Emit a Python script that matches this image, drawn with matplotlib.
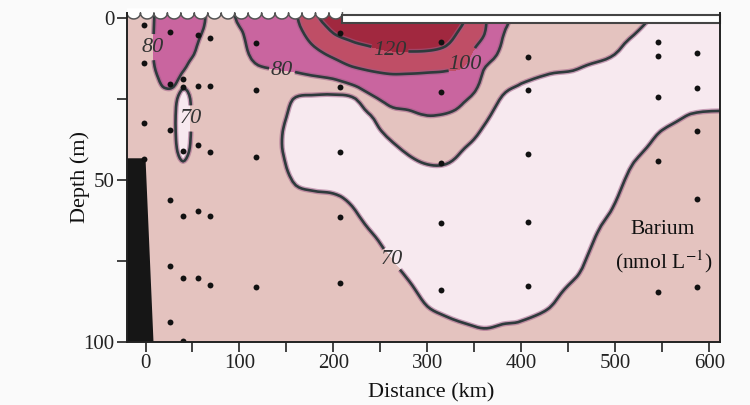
import numpy as np
import matplotlib
matplotlib.use('Agg')
import matplotlib.pyplot as plt
import matplotlib.patheffects as pe
from matplotlib.patches import Rectangle, Polygon

plt.rcParams['font.family'] = ['Liberation Serif', 'DejaVu Serif']
plt.rcParams['mathtext.fontset'] = 'stix'

# ---------------- data ----------------
grid_km = [-20, 0, 10, 20, 30, 40, 50, 60, 70, 85, 100, 120, 140, 160, 180, 200,
           220, 240, 260, 280, 300, 320, 340, 360, 380, 400, 430, 460, 490, 520,
           550, 580, 620]
grid_depth = [0, 5, 10, 15, 20, 25, 30, 35, 40, 45, 50, 55, 60, 65, 70, 75, 80,
              85, 90, 95, 100]

# Barium (nmol/L) profile for each grid column, depths 0..100 m
ba_profiles = [
    [75, 75, 75, 75, 75, 75, 75, 75, 75, 75, 75, 75, 75, 75, 75, 75, 75, 75, 75, 75, 75],
    [75, 75, 75, 75, 75, 75, 75, 75, 75, 75, 75, 75, 75, 75, 75, 75, 75, 75, 75, 75, 75],
    [80.4, 81, 81.5, 80.2, 77, 75, 75, 75, 75, 75, 75, 75, 75, 75, 75, 75, 75, 75, 75, 75, 75],
    [88, 90, 90, 88, 82, 76, 75, 75, 75, 75, 75, 75, 75, 75, 75, 75, 75, 75, 75, 75, 75],
    [90, 92, 92, 89, 82, 74, 72, 72, 73, 75, 75, 75, 75, 75, 75, 75, 75, 75, 75, 75, 75],
    [88, 88, 86, 82, 74, 64, 62, 62, 64, 71, 75, 75, 75, 75, 75, 75, 75, 75, 75, 75, 75],
    [86, 85, 82, 77, 75, 72, 71.5, 71.5, 72.5, 75, 75, 75, 75, 75, 75, 75, 75, 75, 75, 75, 75],
    [83, 79.7, 76, 75, 75, 75, 75, 75, 75, 75, 75, 75, 75, 75, 75, 75, 75, 75, 75, 75, 75],
    [75, 75, 75, 75, 75, 75, 75, 75, 75, 75, 75, 75, 75, 75, 75, 75, 75, 75, 75, 75, 75],
    [76, 75, 75, 75, 75, 75, 75, 75, 75, 75, 75, 75, 75, 75, 75, 75, 75, 75, 75, 75, 75],
    [82, 78, 76, 75, 75, 75, 75, 75, 75, 75, 75, 75, 75, 75, 75, 75, 75, 75, 75, 75, 75],
    [90, 89, 86, 79.5, 75, 75, 75, 75, 75, 75, 75, 75, 75, 75, 75, 75, 75, 75, 75, 75, 75],
    [92, 93, 90, 81.2, 76, 75, 74, 72.5, 72.5, 74, 75, 75, 75, 75, 75, 75, 75, 75, 75, 75, 75],
    [98.5, 95, 90, 82.5, 75.5, 69.4, 66.6, 63.7, 62.5, 65, 68.9, 72, 74.5, 75, 75, 75, 75, 75, 75, 75, 75],
    [117, 107.6, 97.8, 86.7, 75.6, 68.7, 66.1, 63.5, 62.4, 64.9, 67.7, 71, 73.5, 75, 75, 75, 75, 75, 75, 75, 75],
    [126, 119.5, 106.7, 92.3, 76.7, 68.3, 65.5, 62.7, 61.6, 64, 66.6, 70.6, 73, 75, 75, 75, 75, 75, 75, 75, 75],
    [130, 123.8, 114.3, 100, 81.8, 68.8, 65.9, 62.9, 60, 62.8, 65.6, 68.3, 71, 73.5, 75, 75, 75, 75, 75, 75, 75],
    [132, 125.5, 117.8, 104.1, 89.2, 77.1, 70.1, 67.2, 64.4, 61.7, 60.6, 63.3, 66.1, 69.4, 72.5, 75, 75, 75, 75, 75, 75],
    [134, 127, 120.3, 105.7, 93.7, 83.2, 76.7, 71.9, 68.4, 65.7, 63, 60.3, 62.4, 65.1, 67.8, 70.6, 73, 75, 75, 75, 75],
    [135, 127.6, 120.9, 105.5, 93.9, 84.6, 78.3, 74.8, 71.4, 68.5, 65.9, 63.3, 60.8, 61.8, 64.4, 66.9, 69.5, 72, 74, 75, 75],
    [135, 127.5, 120.4, 104.1, 94.6, 87.3, 80.1, 76.7, 73.3, 70.1, 67.5, 65, 62.5, 59.9, 60.5, 63, 65.5, 68, 70.5, 73, 75],
    [134, 126.2, 117.1, 102.9, 93.8, 86.2, 79.4, 76.3, 73.1, 70.05, 67.4, 64.9, 62.3, 59.8, 58.8, 61.3, 63.9, 66.4, 68.9, 71.5, 74],
    [120.5, 113.4, 106.4, 99.1, 90, 80.9, 76.9, 73.4, 70.05, 67.8, 65.6, 63.3, 61.1, 58.9, 58.9, 61.1, 63.3, 65.6, 67.8, 70.4, 73],
    [103, 100.7, 91.6, 81.1, 77.4, 74.6, 71.7, 69.2, 67.1, 65, 63, 60.9, 58.9, 57, 59.3, 61.3, 63.4, 65.5, 67.5, 69.6, 72],
    [84, 80.7, 78, 74.9, 72, 69.5, 67.6, 65.8, 64, 62.1, 60.3, 58.5, 57.4, 59.2, 61, 62.8, 64.6, 66.4, 68.2, 70.2, 72],
    [77, 75.5, 74, 72.5, 70.1, 68.1, 66.2, 64.3, 62.4, 60.5, 58.6, 56.8, 57.1, 59, 61, 62.9, 64.8, 66.7, 68.7, 70.6, 73],
    [76, 74.5, 73, 71, 68.8, 66.9, 65, 63, 61, 59.1, 57.2, 56.8, 58.7, 60.6, 62.6, 64.5, 66.4, 68.4, 70.2, 72.3, 74],
    [75, 73.5, 72, 70.3, 68.2, 66.1, 64.1, 62.1, 60, 58, 57.5, 59.5, 62.4, 64.1, 66.1, 68.2, 70.2, 72.5, 74, 75, 75],
    [74.5, 73, 72, 68.2, 65.4, 62.8, 60.1, 57.8, 58.6, 61.2, 63.8, 66.4, 69, 71.5, 73.5, 75, 75, 75, 75, 75, 75],
    [72, 70.1, 67, 64, 61, 58, 61.1, 64.2, 67.2, 70.3, 72.5, 74, 75, 75, 75, 75, 75, 75, 75, 75, 75],
    [68, 65, 62, 60, 60, 62, 66, 70.3, 72.5, 74, 75, 75, 75, 75, 75, 75, 75, 75, 75, 75, 75],
    [62, 60, 60, 61, 63, 66, 70.3, 73, 74.5, 75, 75, 75, 75, 75, 75, 75, 75, 75, 75, 75, 75],
    [62, 60, 60, 61, 63, 67, 71, 73.5, 75, 75, 75, 75, 75, 75, 75, 75, 75, 75, 75, 75, 75],
]

# sampling stations (distance km) and sample depths (m)
station_km = [-2, 26.5, 40.4, 56.4, 69, 118, 207, 315, 407, 545, 587]
station_depths = [
    [2.2, 13.9, 32.4, 43.5],
    [4.3, 20.4, 34.6, 56.2, 76.5, 93.8],
    [18.8, 21.3, 41, 61, 80.2, 99.7],
    [5.2, 21, 39.2, 59.6, 80.2],
    [6.2, 21, 41.4, 61, 82.4],
    [7.7, 22.2, 42.9, 83],
    [4.6, 21.3, 41.4, 61.4, 81.8],
    [7.4, 22.8, 44.8, 63.3, 84],
    [12, 22.2, 42, 63, 82.7],
    [7.4, 11.7, 24.4, 44.1, 84.6],
    [10.8, 21.6, 34.9, 55.9, 83],
]

fill_levels = [0, 70, 80, 100, 120, 200]
fill_colors = ['#F7E9EF', '#E4C3BF', '#C9659F', '#BF4E66', '#A1283F']
line_levels = [70, 80, 100, 120]
label_pos = [(7.5, 9), (51, 31), (145, 17), (260, 10), (337, 13.6), (260, 75)]

xtick_vals = [0, 50, 100, 150, 200, 250, 300, 350, 400, 450, 500, 550, 600]
xtick_labels = ['0', '', '100', '', '200', '', '300', '', '400', '', '500', '', '600']
ytick_vals = [0, 25, 50, 75, 100]
ytick_labels = ['0', '', '50', '', '100']

shelf_km = [-19.7, 0, 8.5, -19.7]
shelf_depth = [43.3, 43.3, 100, 100]

# ---------------- smoothing helper (Catmull-Rom upsampling) ----------------
def cr_upsample(a, factor, axis):
    a = np.moveaxis(a, axis, 0)
    n = a.shape[0]
    t = np.linspace(0, n - 1, (n - 1) * factor + 1)
    i = np.clip(np.floor(t).astype(int), 0, n - 2)
    s = (t - i).reshape((-1,) + (1,) * (a.ndim - 1))
    p0 = a[np.clip(i - 1, 0, n - 1)]
    p1 = a[i]
    p2 = a[i + 1]
    p3 = a[np.clip(i + 2, 0, n - 1)]
    out = 0.5 * (2 * p1 + (-p0 + p2) * s + (2 * p0 - 5 * p1 + 4 * p2 - p3) * s ** 2
                 + (-p0 + 3 * p1 - 3 * p2 + p3) * s ** 3)
    return np.moveaxis(out, 0, axis), t

Z = np.array(ba_profiles, dtype=float).T          # (depth, km)
Z = np.vstack([Z[:1], Z])                          # reach the frame top above 0 m
depth_ext = [-2.0] + list(grid_depth)

Zs, tx = cr_upsample(Z, 6, 1)
Zs, ty = cr_upsample(Zs, 4, 0)
Xf = np.interp(tx, np.arange(len(grid_km)), grid_km)
Yf = np.interp(ty, np.arange(len(depth_ext)), depth_ext)
XX, YY = np.meshgrid(Xf, Yf)

# ---------------- figure ----------------
bg = '#FAFAFA'
fig = plt.figure(figsize=(7.5, 4.05), dpi=100, facecolor=bg)
x0, x1 = -19.7, 611.5
ytop = -1.6
ax = fig.add_axes([127 / 750, 63 / 405, (720 - 127) / 750, (342 - 12.8) / 405])
ax.set_facecolor(bg)
ax.set_xlim(x0, x1)
ax.set_ylim(100, ytop)

ax.contourf(XX, YY, Zs, levels=fill_levels, colors=fill_colors, zorder=1)
cs = ax.contour(XX, YY, Zs, levels=line_levels, colors='#2E3A3C', linewidths=1.9, zorder=2)
cs.set_path_effects([pe.Stroke(linewidth=3.8, foreground=(0.62, 0.36, 0.52, 0.55)), pe.Normal()])

ax.add_patch(Polygon(list(zip(shelf_km, shelf_depth)), closed=True, facecolor='#161616',
                     edgecolor='none', zorder=3))

for xk, ds in zip(station_km, station_depths):
    ax.scatter([xk] * len(ds), ds, s=18, color='#111111', zorder=5, linewidths=0)

labels = ax.clabel(cs, fmt='%d', fontsize=16, inline=True, inline_spacing=2,
                   manual=label_pos)
for t in labels:
    t.set_rotation(0)
    t.set_fontstyle('italic')
    t.set_color('#333333')
    t.set_fontfamily(['Liberation Serif', 'DejaVu Serif'])

# sea-surface decorations: scalloped ice edge and white rectangle
n_sc = 16
edges = np.linspace(x0, 209.6, n_sc + 1)
d_top, h = -1.6, 1.9
th = np.linspace(np.pi, 0, 24)
arc_x, arc_y = [], []
for a, b in zip(edges[:-1], edges[1:]):
    xc, hw = (a + b) / 2, (b - a) / 2
    arc_x.extend(xc + hw * np.cos(th))
    arc_y.extend(d_top + h * np.sin(th))
poly = list(zip(arc_x, arc_y)) + [(209.6, -3), (x0, -3)]
ax.add_patch(Polygon(poly, closed=True, facecolor='white', edgecolor='none', zorder=6,
                     clip_on=False))
ax.plot(arc_x, arc_y, color='#555555', lw=1.1, zorder=7, clip_on=False)
ax.add_patch(Rectangle((209.6, -3), x1 - 209.6, 2.1, facecolor=bg, edgecolor='none',
                       zorder=6, clip_on=False))
ax.add_patch(Rectangle((209.6, -0.9), x1 - 209.6, 2.4, facecolor='white',
                       edgecolor='#444444', lw=1.5, zorder=7, clip_on=False))

ax.text(550, 65.4, 'Barium', fontsize=15.5, ha='center', va='center', color='#111111', zorder=8)
ax.text(551, 75.3, r'(nmol L$^{-1}$)', fontsize=15.5, ha='center', va='center',
        color='#111111', zorder=8)

for side in ['left', 'bottom', 'right']:
    ax.spines[side].set_linewidth(1.4)
    ax.spines[side].set_color('#222222')
    ax.spines[side].set_zorder(9)
ax.spines['top'].set_visible(False)
ax.set_xticks(xtick_vals)
ax.set_xticklabels(xtick_labels)
ax.set_yticks(ytick_vals)
ax.set_yticklabels(ytick_labels)
ax.tick_params(direction='out', length=7, width=1.2, labelsize=15, colors='#222222', pad=2)
ax.set_xlabel('Distance (km)', fontsize=16, color='#111111')
ax.set_ylabel('Depth (m)', fontsize=16, color='#111111')
ax.xaxis.set_label_coords(0.5126, -0.125)
ax.yaxis.set_label_coords(-0.063, 0.5)

fig.savefig('out.png', dpi=100, facecolor=bg)
